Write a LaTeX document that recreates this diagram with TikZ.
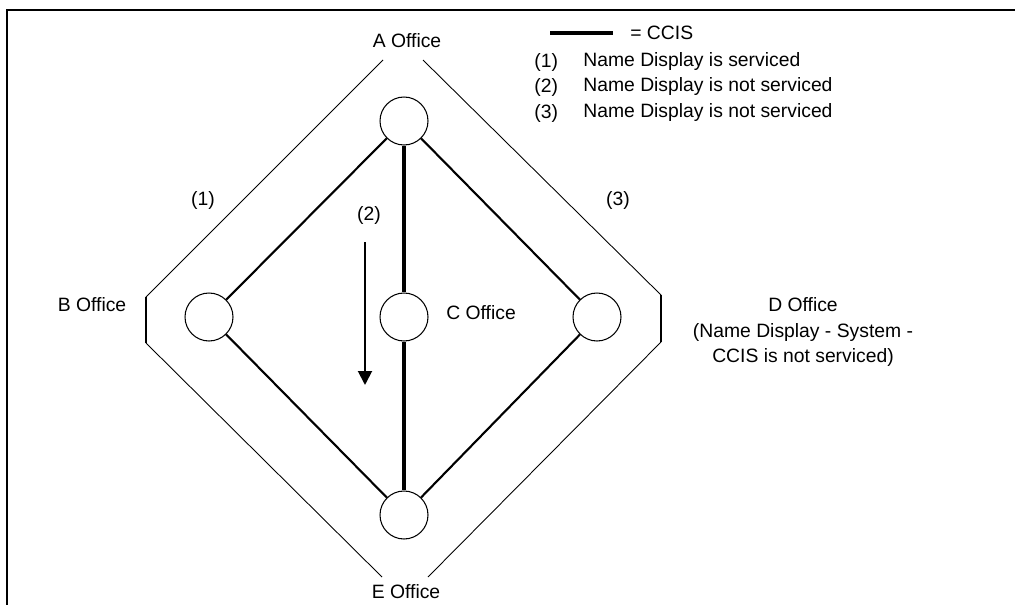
\documentclass[tikz,border=0pt]{standalone}
\usepackage{fontspec}
\setmainfont{Liberation Sans}
\usetikzlibrary{arrows.meta}

\tikzset{
  office/.style={draw, circle, minimum size=0.96cm, inner sep=0pt, line width=0.6pt},
  ccis/.style={line width=1.2pt},
  trunk/.style={line width=2pt},
  outline/.style={line width=0.5pt},
  lbl/.style={inner sep=0pt, font=\fontsize{11}{14.7}\selectfont},
}

\begin{document}
\begin{tikzpicture}[x=0.02cm, y=-0.02cm]
\useasboundingbox (0,0) rectangle (1015,605);
\draw[line width=1.3pt] (7,605) -- (7,10) -- (1015,10);

% offices
\node[office] (a) at (404,121) {};
\node[office] (b) at (209,317) {};
\node[office] (c) at (404,317) {};
\node[office] (d) at (597,317) {};
\node[office] (e) at (404,515) {};

\draw[ccis] (a) -- (b);
\draw[trunk] (a) -- (c);
\draw[ccis] (a) -- (d);
\draw[ccis] (b) -- (e);
\draw[trunk] (c) -- (e);
\draw[ccis] (d) -- (e);

% outer route
\draw[outline] (383,60) -- (146,297);
\draw[ccis] (146,297) -- (146,343);
\draw[outline] (146,343) -- (382,577);
\draw[outline] (423,60) -- (661,295);
\draw[ccis] (661,295) -- (661,342);
\draw[outline] (661,342) -- (428,577);

\node[lbl] (aoff) at (407,41) {A Office};
\node[lbl] (boff) at (92,305) {B Office};
\node[lbl, anchor=west] (coff) at (446,313) {C Office};
\node[lbl, align=center] (doff) at (803,332) {D Office\\(Name Display - System -\\CCIS is not serviced)};
\node[lbl] (eoff) at (406,592) {E Office};

\node[lbl] (r1) at (203,200) {(1)};
\node[lbl] (r2) at (369,215) {(2)};
\node[lbl] (r3) at (618,200) {(3)};
\coordinate (r2top) at (365,242);
\coordinate (r2end) at (365,385);
\draw[line width=1.1pt, -{Triangle[width=0.28cm, length=0.28cm]}] (r2top) -- (r2end);

% legend
\coordinate (keyl) at (550,33);
\coordinate (keyr) at (613,33);
\draw[trunk] (keyl) -- (keyr);
\node[lbl, anchor=west] (key) at (630,33) {= CCIS};
\node[lbl, anchor=west] (n1) at (534,62) {(1)};
\node[lbl, anchor=west] (t1) at (583,62) {Name Display is serviced};
\node[lbl, anchor=west] (n2) at (534,87) {(2)};
\node[lbl, anchor=west] (t2) at (583,87) {Name Display is not serviced};
\node[lbl, anchor=west] (n3) at (534,113) {(3)};
\node[lbl, anchor=west] (t3) at (583,113) {Name Display is not serviced};
\end{tikzpicture}
\end{document}
